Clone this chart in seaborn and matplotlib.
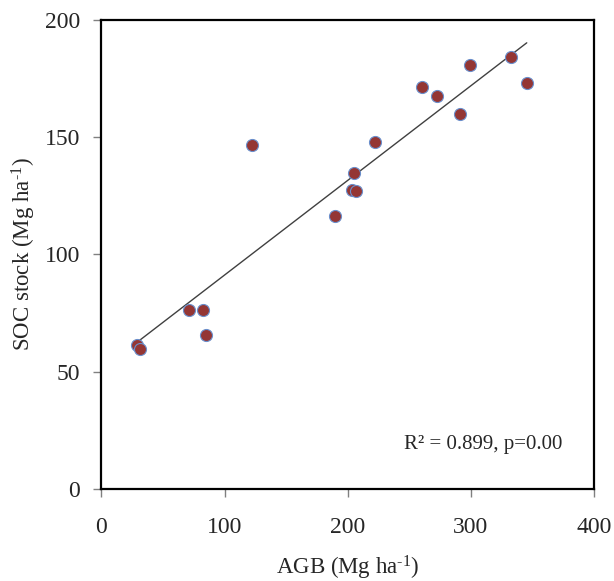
import matplotlib
matplotlib.use("Agg")
import matplotlib.pyplot as plt
import seaborn as sns
import pandas as pd

# Data
agb = [28.6, 31.3, 71.1, 82.7, 84.6, 122.5, 189.7, 203.2, 206.5, 205.1,
       222.2, 260.6, 272.3, 291.2, 299.4, 332.9, 345.4]
soc = [61.3, 59.6, 76.1, 76.2, 65.6, 146.7, 116.3, 127.4, 127.0, 134.5,
       147.7, 171.4, 167.4, 159.6, 180.5, 184.2, 172.9]
x_ticks = [0, 100, 200, 300, 400]
y_ticks = [0, 50, 100, 150, 200]
annotation = "R² = 0.899, p=0.00"

df = pd.DataFrame({"AGB": agb, "SOC": soc})

sns.set_style("white")
plt.rcParams["font.family"] = ["Liberation Serif", "DejaVu Serif"]
plt.rcParams["mathtext.fontset"] = "custom"
plt.rcParams["mathtext.rm"] = "Liberation Serif"
plt.rcParams["mathtext.it"] = "Liberation Serif:italic"

fig = plt.figure(figsize=(6.14, 5.81), dpi=100)
ax = fig.add_axes([0.1653, 0.1583, 0.8021, 0.8081])

sns.regplot(data=df, x="AGB", y="SOC", ax=ax, ci=None,
            scatter_kws=dict(s=75, color="#943634", edgecolor="#6A8FCC",
                             linewidths=0.8, alpha=1, zorder=3),
            line_kws=dict(color="#404040", linewidth=1.0, zorder=2))

ax.set_xlim(0, 400)
ax.set_ylim(0, 200)
ax.set_xticks(x_ticks)
ax.set_yticks(y_ticks)
ax.set_xticklabels([str(t) for t in x_ticks])
ax.set_yticklabels([str(t) for t in y_ticks])

for s in ax.spines.values():
    s.set_visible(True)
    s.set_color("black")
    s.set_linewidth(1.6)

ax.tick_params(axis="both", which="major", direction="out", length=5.8,
               width=1.0, color="#808080", labelsize=17, pad=9.5,
               bottom=True, left=True)
ax.tick_params(axis="x", pad=14.5)

ax.set_xlabel(r"AGB (Mg ha$^{\text{-}1}$)", fontsize=16.5, labelpad=11)
ax.set_ylabel(r"SOC stock (Mg ha$^{\text{-}1}$)", fontsize=16.5, labelpad=5)

ax.text(0.615, 0.095, annotation, transform=ax.transAxes, fontsize=15,
        ha="left", va="center")

fig.savefig("out.png", dpi=100)
